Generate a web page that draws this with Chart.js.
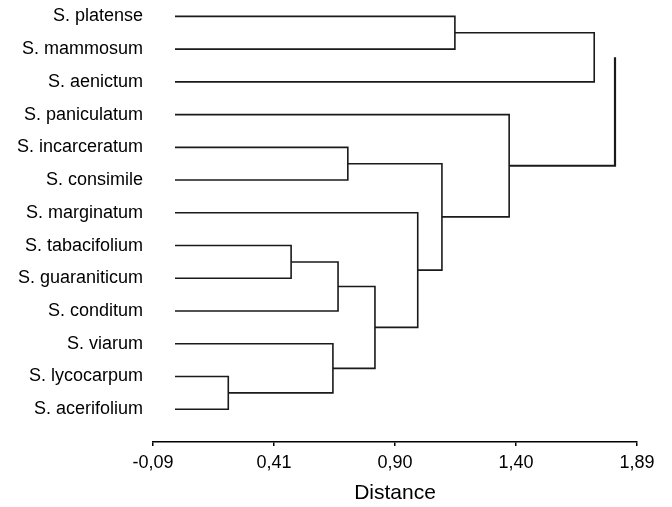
<!DOCTYPE html>
<html>
<head>
<meta charset="utf-8">
<script src="https://cdn.jsdelivr.net/npm/chart.js@4.4.1/dist/chart.umd.min.js"></script>
<style>
  body { margin: 0; background: #fff; }
  canvas { display: block; }
</style>
</head>
<body>
<canvas id="dendro" width="672" height="507"></canvas>
<script>
// leaves, top to bottom
const leafNames = [
    'S. platense', 'S. mammosum', 'S. aenictum', 'S. paniculatum',
    'S. incarceratum', 'S. consimile', 'S. marginatum', 'S. tabacifolium',
    'S. guaraniticum', 'S. conditum', 'S. viarum', 'S. lycocarpum', 'S. acerifolium'
];

// merges: node 13 is the first merge, 14 the second, ...
const mergeLeft   = [0, 13, 4, 7, 16, 11, 10, 17, 6, 15, 3, 14];
const mergeRight  = [1, 2, 5, 8, 9, 12, 18, 19, 20, 21, 22, 23];
const mergeHeight = [1.145, 1.715, 0.707, 0.475, 0.667, 0.218, 0.646, 0.818, 0.993, 1.092, 1.367, 1.80];

// the root link is drawn without its upper arm in the original
const openLinks = [11];

const tickValues = [-0.09, 0.405, 0.90, 1.395, 1.89];
const tickLabels = ['-0,09', '0,41', '0,90', '1,40', '1,89'];

const FONT = "'Liberation Sans', Arial, sans-serif";
const INK = '#1a1a1a';

function buildLinks() {
    const nodeY = leafNames.map((_, i) => i);
    const nodeH = leafNames.map(() => 0);
    const sets = [];
    mergeHeight.forEach((h, k) => {
        const a = mergeLeft[k], b = mergeRight[k];
        const pts = [
            { x: nodeH[a], y: nodeY[a] },
            { x: h, y: nodeY[a] },
            { x: h, y: nodeY[b] },
            { x: nodeH[b], y: nodeY[b] }
        ];
        if (openLinks.includes(k)) pts.shift();
        nodeY.push((nodeY[a] + nodeY[b]) / 2);
        nodeH.push(h);
        sets.push({
            data: pts,
            showLine: true,
            borderColor: INK,
            borderWidth: k === mergeHeight.length - 1 ? 2.2 : 1.6,
            borderJoinStyle: 'miter',
            borderCapStyle: 'butt',
            pointRadius: 0,
            tension: 0
        });
    });
    return sets;
}

const ctx = document.getElementById('dendro').getContext('2d');
new Chart(ctx, {
    type: 'scatter',
    data: { datasets: buildLinks() },
    options: {
        responsive: false,
        animation: false,
        events: [],
        layout: { padding: { top: 0, right: 35, bottom: 0, left: 0 } },
        plugins: { legend: { display: false }, tooltip: { enabled: false } },
        scales: {
            x: {
                type: 'linear',
                min: -0.09,
                max: 1.89,
                afterBuildTicks: s => { s.ticks = tickValues.map(v => ({ value: v })); },
                afterFit: s => { s.height = 65; s.paddingLeft = 0; s.paddingRight = 0; },
                ticks: {
                    color: '#000',
                    font: { family: FONT, size: 18 },
                    padding: 6,
                    maxRotation: 0,
                    autoSkip: false,
                    callback: (v, i) => tickLabels[i]
                },
                grid: { drawOnChartArea: false, tickLength: 4, color: '#000', lineWidth: 1.5 },
                border: { color: '#000', width: 1.5 },
                title: {
                    display: true,
                    text: 'Distance',
                    color: '#000',
                    font: { family: FONT, size: 21 },
                    padding: { top: 0, bottom: 1 }
                }
            },
            y: {
                type: 'linear',
                reverse: true,
                min: -0.5,
                max: 13,
                afterBuildTicks: s => { s.ticks = leafNames.map((_, i) => ({ value: i })); },
                afterFit: s => { s.width = 153; s.paddingTop = 0; s.paddingBottom = 0; },
                ticks: {
                    color: '#000',
                    font: { family: FONT, size: 18 },
                    padding: 10,
                    autoSkip: false,
                    callback: v => leafNames[v]
                },
                grid: { display: false, drawTicks: false },
                border: { display: false }
            }
        }
    }
});
</script>
</body>
</html>
